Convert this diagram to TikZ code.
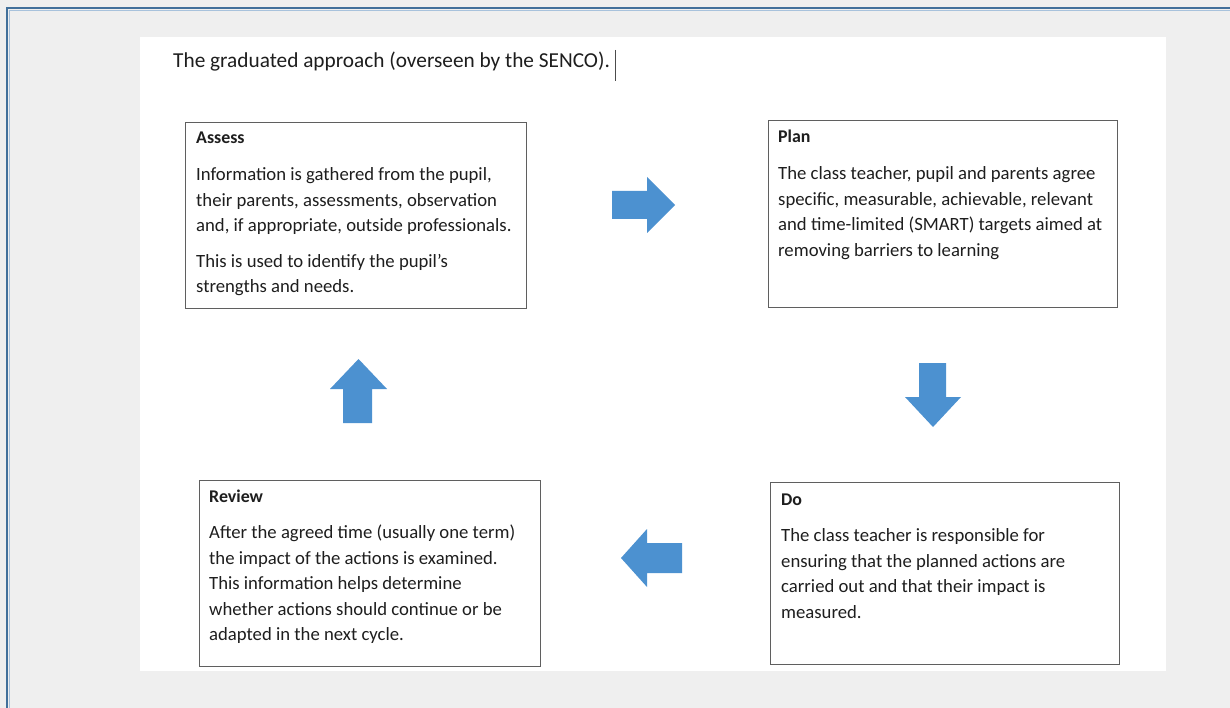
\documentclass[tikz,border=0pt]{standalone}
\usepackage{fontspec}
\setmainfont{Carlito}
\definecolor{bg}{RGB}{239,239,239}
\definecolor{frameblue}{RGB}{66,112,155}
\definecolor{framelight}{RGB}{168,194,220}
\definecolor{arrowblue}{RGB}{76,145,208}
\definecolor{boxline}{RGB}{95,95,95}
\definecolor{txt}{RGB}{30,30,30}
\newcommand{\headskip}{\vskip 11.5pt}
\newcommand{\paraskip}{\vskip 10.5pt}
\begin{document}
\begin{tikzpicture}[x=1pt,y=-1pt,
  stepbox/.style={draw=boxline, line width=1.4pt, fill=white, rectangle, inner sep=0pt, anchor=north west},
  boxtext/.style={anchor=base west, inner sep=0pt, text=txt, font=\fontsize{18.7}{25.4}\selectfont},
  blockarrow/.style={fill=arrowblue, draw=none}
]
% canvas
\fill[bg] (0,0) rectangle (1230,708);
\useasboundingbox (0,0) rectangle (1230,708);
% outer frame (top and left edges)
\draw[frameblue, line width=2.6pt] (7,708) -- (7,8) -- (1230,8);
\draw[framelight, line width=0.9pt] (9.2,708) -- (9.2,10.2) -- (1230,10.2);
% page
\fill[white] (140,37) rectangle (1166,671);

% title
\node[anchor=base west, inner sep=0pt, text=txt, font=\fontsize{21.3}{25}\selectfont] (title) at (173,68) {The graduated approach (overseen by the SENCO).};
\coordinate (cursortop) at (615,50);
\coordinate (cursorbot) at (615,81);
\draw[black!70, line width=0.8pt] (cursortop) -- (cursorbot);

% boxes
\node[stepbox, minimum width=341pt, minimum height=186pt] (assess) at (185,122) {};
\node[stepbox, minimum width=349pt, minimum height=187pt] (plan) at (768,120) {};
\node[stepbox, minimum width=341pt, minimum height=186pt] (review) at (199,480) {};
\node[stepbox, minimum width=349pt, minimum height=182pt] (do) at (770,482) {};

% box texts
\node[boxtext] (assessT) at (196,144) {\vtop{\hsize=400pt\parindent=0pt
{\fontsize{17.9}{25.4}\selectfont\bfseries Assess}\par\headskip
Information is gathered from the pupil,\par
their parents, assessments, observation\par
and, if appropriate, outside professionals.\par\paraskip
This is used to identify the pupil’s\par
strengths and needs.\par}};

\node[boxtext] (planT) at (778,143) {\vtop{\hsize=400pt\parindent=0pt
{\fontsize{17.9}{25.4}\selectfont\bfseries Plan}\par\headskip
The class teacher, pupil and parents agree\par
specific, measurable, achievable, relevant\par
and time-limited (SMART) targets aimed at\par
removing barriers to learning\par}};

\node[boxtext] (reviewT) at (209,502) {\vtop{\hsize=400pt\parindent=0pt
{\fontsize{17.9}{25.4}\selectfont\bfseries Review}\par\headskip
After the agreed time (usually one term)\par
the impact of the actions is examined.\par
This information helps determine\par
whether actions should continue or be\par
adapted in the next cycle.\par}};

\node[boxtext] (doT) at (781,505) {\vtop{\hsize=400pt\parindent=0pt
{\fontsize{17.9}{25.4}\selectfont\bfseries Do}\par\headskip
The class teacher is responsible for\par
ensuring that the planned actions are\par
carried out and that their impact is\par
measured.\par}};

% block arrows
% right (Assess -> Plan)
\fill[blockarrow] (612,191) -- (647,191) -- (647,177) -- (675,205) -- (647,233) -- (647,219) -- (612,219) -- cycle;
% down (Plan -> Do)
\fill[blockarrow] (919,363) -- (946,363) -- (946,397) -- (961,397) -- (933,427) -- (905,397) -- (919,397) -- cycle;
% left (Do -> Review)
\fill[blockarrow] (682,543) -- (647,543) -- (647,529) -- (621,558) -- (647,587) -- (647,573) -- (682,573) -- cycle;
% up (Review -> Assess)
\fill[blockarrow] (343,423) -- (343,389) -- (330,389) -- (358.5,359) -- (387,389) -- (372,389) -- (372,423) -- cycle;
\end{tikzpicture}
\end{document}
